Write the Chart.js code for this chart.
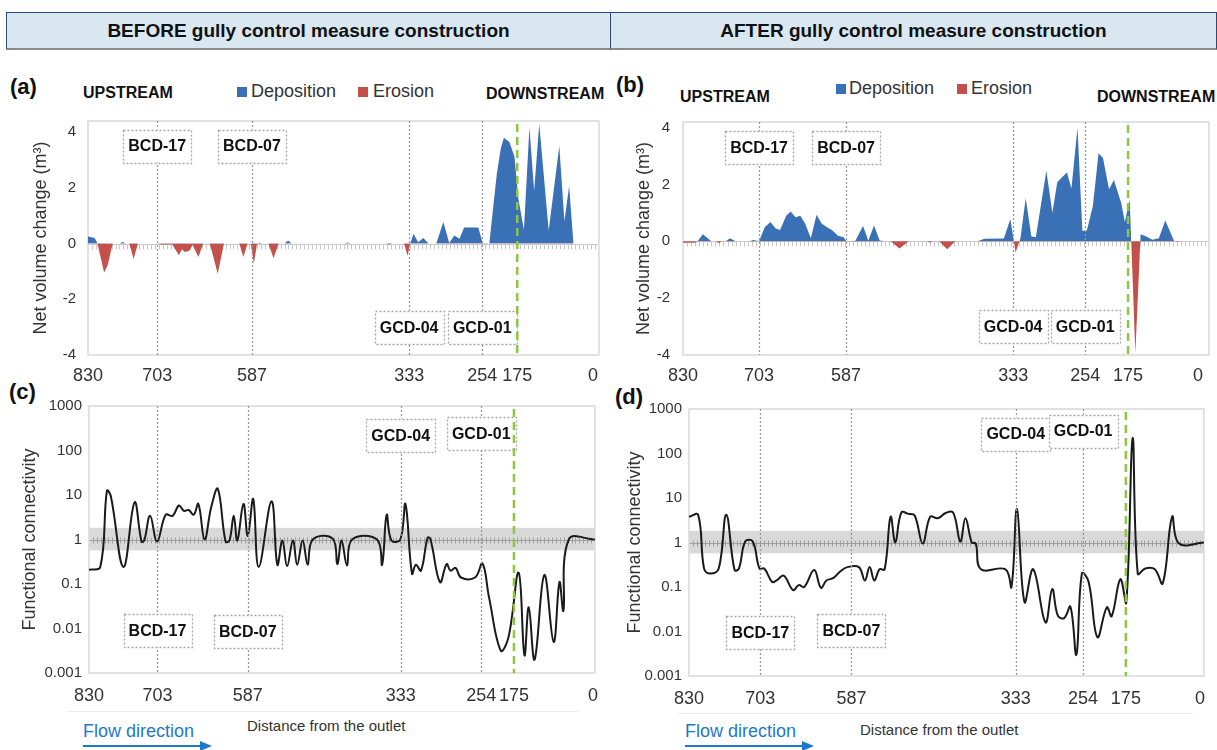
<!DOCTYPE html>
<html>
<head>
<meta charset="utf-8">
<script src="https://cdn.jsdelivr.net/npm/chart.js@4.4.0/dist/chart.umd.min.js"></script>
<style>
body { margin: 0; width: 1217px; height: 750px; position: relative; overflow: hidden; background: #fff;
       font-family: "Liberation Sans", Arial, sans-serif; color: #222; }
canvas { position: absolute; }
.abs { position: absolute; white-space: nowrap; transform: translateY(-50%); }
.hdr { position: absolute; top: 12px; height: 38px; line-height: 36px; text-align: center; box-sizing: border-box;
       background: #d9e7f1; border: 1px solid #2f4a72; border-bottom: 2px solid #8a8a8a;
       font-weight: bold; font-size: 19px; color: #111; }
.letter { font-weight: bold; font-size: 22px; color: #111; }
.stream { font-weight: bold; font-size: 16px; color: #111; }
.leg { font-size: 18px; color: #333; }
.sq { position: absolute; width: 10px; height: 10px; transform: translateY(-50%); }
.flow { font-size: 18px; color: #1f78c8; }
.dist { font-size: 15px; color: #333; }
.sep { position: absolute; height: 1px; background: #ececec; }
</style>
</head>
<body>

<div class="hdr" style="left:6px;width:605px">BEFORE gully control measure construction</div>
<div class="hdr" style="left:610px;width:607px">AFTER gully control measure construction</div>

<div class="abs letter" style="left:10px;top:87px">(a)</div>
<div class="abs letter" style="left:616px;top:85px">(b)</div>
<div class="abs letter" style="left:9px;top:392px">(c)</div>
<div class="abs letter" style="left:615px;top:397px">(d)</div>

<div class="abs stream" style="left:83px;top:93px">UPSTREAM</div>
<div class="abs stream" style="left:486px;top:94px">DOWNSTREAM</div>
<div class="abs stream" style="left:680px;top:97px">UPSTREAM</div>
<div class="abs stream" style="left:1097px;top:97px">DOWNSTREAM</div>

<div class="sq" style="left:237px;top:92px;background:#3a70b6"></div>
<div class="abs leg" style="left:251px;top:91px">Deposition</div>
<div class="sq" style="left:358px;top:92px;background:#c4504c"></div>
<div class="abs leg" style="left:373px;top:91px">Erosion</div>
<div class="sq" style="left:836px;top:89px;background:#3a70b6"></div>
<div class="abs leg" style="left:849px;top:88px">Deposition</div>
<div class="sq" style="left:957px;top:89px;background:#c4504c"></div>
<div class="abs leg" style="left:971px;top:88px">Erosion</div>

<canvas id="chartA" width="610" height="290" style="left:0;top:100px"></canvas>
<canvas id="chartB" width="607" height="290" style="left:610px;top:100px"></canvas>
<canvas id="chartC" width="610" height="320" style="left:0;top:390px"></canvas>
<canvas id="chartD" width="607" height="320" style="left:610px;top:390px"></canvas>

<div class="sep" style="left:67px;top:711px;width:511px"></div>
<div class="sep" style="left:678px;top:713px;width:515px"></div>
<div class="abs flow" style="left:83px;top:731px">Flow direction</div>
<div class="abs flow" style="left:685px;top:731px">Flow direction</div>
<svg style="position:absolute;left:83px;top:740px" width="130" height="12"><line x1="0" y1="6" x2="120" y2="6" stroke="#1f78c8" stroke-width="2"/><polygon points="117,1 129,6 117,11" fill="#1f78c8"/></svg>
<svg style="position:absolute;left:685px;top:740px" width="130" height="12"><line x1="0" y1="6" x2="120" y2="6" stroke="#1f78c8" stroke-width="2"/><polygon points="117,1 129,6 117,11" fill="#1f78c8"/></svg>
<div class="abs dist" style="left:247px;top:725px">Distance from the outlet</div>
<div class="abs dist" style="left:860px;top:729px">Distance from the outlet</div>

<script>
Chart.defaults.font.family = '"Liberation Sans", Arial, sans-serif';
Chart.defaults.color = '#333';
Chart.defaults.animation = false;

const stationMax = 130;
const tickText = ['830', '703', '587', '333', '254', '175', '0'];
// where the distance labels sit along the section index
const tickPosA = [0, 17.6, 41.7, 81.7, 100.3, 109.2, 128.5];
const tickPosB = [0, 18.8, 40.3, 81.6, 99.4, 110.0, 127.3];
const tickPosC = [0, 17.6, 40.8, 80.1, 100.8, 109.2, 129.5];
const tickPosD = [0, 18.0, 41.0, 82.5, 99.5, 110.3, 129.0];
const connTicks = [0.001, 0.01, 0.1, 1, 10, 100, 1000];
const bandLow = 0.57, bandHigh = 1.83;

const markerNames = ['BCD-17', 'BCD-07', 'GCD-04', 'GCD-01'];
const markerYA = [3.5, 3.5, -3.0, -3.0];
const markerYB = [3.3, 3.3, -3.0, -3.0];
const markerYC = [0.0088, 0.0085, 220, 235];
const markerYD = [0.0093, 0.0107, 273, 320];

// (a) net volume change before
const netBeforeX = [0, 1.7, 2.4, 4.1, 5.0, 6.3, 8.0, 8.8, 9.6, 10.5, 11.6, 12.7, 17.8, 18.6, 21.5, 23.1, 23.9, 24.6, 25.8, 26.6,
  28.1, 29.3, 31.0, 33.0, 34.6, 38.5, 39.5, 40.6, 41.4, 42.2, 43.0, 43.6, 44.3, 45.9, 47.2, 48.5, 50.0, 50.9, 51.8, 65.2,
  66.0, 66.8, 75.8, 76.6, 77.4, 80.4, 81.3, 82.0, 82.8, 84.0, 85.3, 86.6, 88.6, 90.4, 91.9, 93.2, 94.5, 95.7, 99.3, 100.4,
  102.1, 103.0, 104.0, 105.0, 105.8, 107.2, 108.5, 109.5, 110.9, 112.3, 113.5, 114.8, 117.2, 119.9, 121.2, 122.4, 123.5, 130];
const netBeforeY = [0.25, 0.2, 0, -1.04, -0.78, 0, 0, 0.06, 0, 0, -0.55, 0, 0, -0.03, -0.03, -0.42, -0.2, -0.3, -0.26, -0.05,
  -0.48, 0, 0, -1.08, 0, 0, -0.48, 0, 0, -0.72, 0, 0.03, 0, 0, -0.53, 0, 0, 0.11, 0, 0,
  0.04, 0, 0, -0.03, 0, 0, -0.44, 0, 0.35, 0.05, 0.2, 0, 0, 0.77, 0.02, 0.29, 0.17, 0.58, 0.58, 0.02,
  0, 1.2, 2.5, 3.4, 3.8, 3.65, 3.12, 1.6, 0.5, 4.17, 1.9, 4.29, 0.47, 3.5, 0.8, 2.07, 0, 0];

// (b) net volume change after
const netAfterX = [0, 3.0, 3.6, 4.9, 7.0, 8.2, 8.9, 9.6, 10.6, 11.6, 13.0, 16.5, 17.4, 18.8, 20.2, 21.6, 22.9, 24.0, 25.5, 26.6,
  27.8, 29.0, 30.2, 31.6, 33.0, 34.3, 35.9, 36.8, 38.3, 39.7, 40.4, 42.6, 44.5, 45.8, 47.2, 48.6, 49.9, 51.3, 53.5, 55.8,
  60.3, 61.0, 61.7, 63.3, 65.3, 67.3, 72.8, 74.5, 79.3, 80.9, 82.2, 83.4, 84.7, 86.1, 87.2, 89.8, 91.3, 92.5, 93.6, 94.9,
  96.0, 97.5, 98.7, 99.8, 101.3, 102.7, 103.8, 105.3, 106.5, 108.3, 109.2, 110.4, 111.8, 113.1, 114.5, 116.0, 117.6, 119.2, 121.4, 122.2,
  123.0, 130];
const netAfterY = [-0.05, -0.05, 0, 0.25, 0, 0, -0.07, 0, 0, 0.11, 0, 0, 0.05, 0, 0.5, 0.68, 0.45, 0.4, 0.9, 1.05,
  0.85, 0.9, 0.62, 0.11, 0.94, 0.62, 0.47, 0.4, 0.2, 0.14, 0, 0.02, 0.54, 0.02, 0.56, 0.03, 0, 0, -0.25, 0,
  0, -0.05, 0, 0, -0.28, 0, 0, 0.09, 0.1, 0.79, -0.39, 0.11, 1.52, 0.17, 0.14, 2.48, 1.01, 2.08, 2.25, 2.42,
  1.86, 4.0, 0.37, 0.37, 1.24, 3.1, 2.93, 1.83, 2.16, 1.35, 0.68, 1.46, -3.94, 0.25, 0.17, 0.06, 0.11, 0.73, 0, -0.02,
  0, 0];

// (c) functional connectivity before
const connBeforeX = [0, 2.9, 4.6, 5.6, 8.85, 11.7, 13.5, 14.2, 15.7, 17.5, 19.7, 21.5, 23.1, 24.4, 25.6, 26.9, 28.1, 29.7, 31.4, 33.1,
  35.1, 36.1, 37.2, 38.1, 39.7, 40.8, 42.2, 43.6, 46.9, 48.4, 49.7, 50.9, 52.4, 53.5, 54.9, 56.2, 57.5, 62.6, 63.8, 64.9,
  66.3, 67.6, 74.0, 75.3, 76.5, 77.7, 80.0, 81.3, 83.0, 84.0, 85.3, 87.0, 87.7, 90.2, 91.9, 92.9, 94.2, 95.6, 99.2, 101.1,
  102.8, 105.8, 107.8, 110.4, 111.9, 113.0, 114.5, 117.0, 119.4, 120.9, 121.9, 123.3, 130];
const connBeforeY = [0.21, 0.24, 12.4, 9.5, 0.24, 6.8, 0.9, 0.95, 3.4, 0.9, 3.6, 3.4, 5.8, 4.4, 4.6, 3.6, 6.3, 1.0, 5.3, 13.7,
  0.9, 0.95, 3.4, 0.95, 6.3, 1.2, 8.1, 0.24, 7.2, 0.27, 0.95, 0.25, 0.95, 0.27, 0.95, 0.27, 1.0, 1.05, 0.28, 0.95,
  0.26, 1.0, 1.0, 0.27, 3.6, 0.95, 1.0, 6.3, 0.17, 0.27, 0.2, 1.1, 1.05, 0.11, 0.28, 0.2, 0.23, 0.14, 0.14, 0.29,
  0.05, 0.0032, 0.0064, 0.18, 0.0025, 0.03, 0.002, 0.16, 0.005, 0.11, 0.025, 1.0, 1.0];

// (d) functional connectivity after
const connAfterX = [0, 2.3, 3.8, 5.3, 7.5, 9.4, 11.5, 12.6, 14.2, 16.1, 17.8, 19.0, 21.0, 22.1, 23.9, 26.3, 27.7, 29.1, 31.6, 33.3,
  34.7, 36.5, 38.1, 40.0, 42.9, 44.4, 45.6, 46.8, 48.1, 49.4, 50.9, 52.1, 53.6, 55.4, 57.0, 59.0, 60.9, 62.8, 64.8, 66.7,
  68.5, 69.8, 71.4, 72.4, 73.7, 79.9, 81.4, 82.8, 84.7, 86.9, 90.0, 91.7, 93.1, 94.7, 96.3, 97.8, 99.2, 100.9, 103.1, 105.5,
  106.7, 108.9, 110.4, 112.0, 113.3, 115.2, 117.6, 119.6, 122.0, 123.7, 130];
const connAfterY = [3.8, 4.2, 0.26, 0.2, 0.26, 4.2, 0.24, 0.26, 1.05, 1.05, 0.26, 0.26, 0.13, 0.14, 0.18, 0.085, 0.11, 0.1, 0.24, 0.096,
  0.14, 0.16, 0.22, 0.28, 0.28, 0.14, 0.28, 0.14, 0.25, 0.25, 3.8, 1.0, 4.7, 4.4, 4.0, 0.95, 3.8, 3.5, 4.6, 4.7,
  1.05, 3.5, 1.0, 0.95, 0.25, 0.25, 0.1, 5.6, 0.046, 0.25, 0.016, 0.09, 0.023, 0.02, 0.036, 0.003, 0.2, 0.13, 0.0075, 0.035,
  0.022, 0.15, 0.045, 220, 0.2, 0.26, 0.25, 0.12, 3.8, 0.95, 1.0];

const blue = '#3a70b6', red = '#c4504c';

const pts = (xs, ys) => xs.map((x, i) => ({ x, y: ys[i] }));

// frame, zero/one line with section ticks, dotted structure lines and their labels
function decor(info) {
  return {
    id: 'decor',
    beforeDatasetsDraw(chart) {
      const { ctx, chartArea: a, scales: { x, y } } = chart;
      ctx.save();
      if (info.band) {
        const t = y.getPixelForValue(bandHigh), b = y.getPixelForValue(bandLow);
        ctx.fillStyle = '#d9d9d9';
        ctx.fillRect(a.left, t, a.right - a.left, b - t);
      }
      const by = Math.round(y.getPixelForValue(info.base)) + 0.5;
      ctx.strokeStyle = info.baseColor;
      ctx.lineWidth = 1;
      ctx.beginPath();
      ctx.moveTo(a.left, by);
      ctx.lineTo(a.right, by);
      for (let s = 1; s < stationMax; s++) {
        const px = Math.round(x.getPixelForValue(s)) + 0.5;
        ctx.moveTo(px, by - info.up);
        ctx.lineTo(px, by + info.down);
      }
      ctx.stroke();
      ctx.strokeStyle = '#d9d9d9';
      ctx.lineWidth = 1.5;
      ctx.strokeRect(a.left, a.top, a.right - a.left, a.bottom - a.top);
      ctx.restore();
    },
    afterDatasetsDraw(chart) {
      const { ctx, chartArea: a, scales: { x, y } } = chart;
      ctx.save();
      ctx.lineWidth = 1.3;
      ctx.strokeStyle = '#9a9a9a';
      ctx.setLineDash([2, 2]);
      for (let i = 1; i <= 4; i++) {
        const px = Math.round(x.getPixelForValue(info.ticks[i])) + 0.5;
        ctx.beginPath();
        ctx.moveTo(px, a.top);
        ctx.lineTo(px, a.bottom);
        ctx.stroke();
      }
      ctx.font = 'bold 16px "Liberation Sans", Arial, sans-serif';
      ctx.textAlign = 'center';
      ctx.textBaseline = 'middle';
      markerNames.forEach((name, i) => {
        const cx = x.getPixelForValue(info.ticks[i + 1]);
        const cy = y.getPixelForValue(info.markers[i]);
        const w = ctx.measureText(name).width + 10, h = 33;
        ctx.fillStyle = '#fff';
        ctx.fillRect(cx - w / 2, cy - h / 2, w, h);
        ctx.strokeStyle = '#a6a6a6';
        ctx.lineWidth = 1.3;
        ctx.strokeRect(Math.round(cx - w / 2) + 0.5, Math.round(cy - h / 2) + 0.5, Math.round(w), h);
        ctx.fillStyle = '#111';
        ctx.fillText(name, cx, cy + 1);
      });
      const gx = x.getPixelForValue(info.ticks[5]);
      ctx.setLineDash([8, 5]);
      ctx.strokeStyle = '#8dc63f';
      ctx.lineWidth = 2.5;
      ctx.beginPath();
      ctx.moveTo(gx, a.top + 3);
      ctx.lineTo(gx, a.bottom);
      ctx.stroke();
      ctx.restore();
    }
  };
}

function xScale(tickPos, h, pad) {
  return {
    type: 'linear', min: 0, max: stationMax,
    afterBuildTicks: s => { s.ticks = tickPos.map(v => ({ value: v })); },
    afterFit: s => { s.height = h; },
    ticks: { autoSkip: false, maxRotation: 0, padding: pad, font: { size: 18 }, color: '#333',
             callback: (v, i) => tickText[i] },
    grid: { display: false, drawTicks: false },
    border: { display: false }
  };
}

function netChart(id, xs, ys, tickPos, markers, max, yWidth, tickPad, titlePad, padTop, padRight) {
  new Chart(document.getElementById(id), {
    type: 'line',
    data: { datasets: [{
      data: pts(xs, ys),
      fill: { target: 'origin', above: blue, below: red },
      backgroundColor: blue, borderColor: 'rgba(0,0,0,0)', borderWidth: 0,
      pointRadius: 0, tension: 0
    }] },
    options: {
      responsive: false,
      layout: { padding: { top: padTop, right: padRight, left: 0, bottom: 0 } },
      plugins: { legend: { display: false }, tooltip: { enabled: false } },
      scales: {
        x: xScale(tickPos, 35, 10),
        y: {
          min: -4, max: max,
          afterFit: s => { s.width = yWidth; },
          ticks: { stepSize: 2, includeBounds: false, padding: tickPad, font: { size: 15 }, color: '#333' },
          grid: { display: false, drawTicks: false },
          border: { display: false },
          title: { display: true, text: 'Net volume change (m³)', font: { size: 18 }, color: '#333',
                   padding: { top: titlePad, bottom: 0 } }
        }
      }
    },
    plugins: [decor({ ticks: tickPos, markers, base: 0, baseColor: '#c8c8c8', up: 0, down: 5, band: false })]
  });
}

function connChart(id, xs, ys, tickPos, markers, yWidth, xHeight, titlePad, padTop, padRight) {
  new Chart(document.getElementById(id), {
    type: 'line',
    data: { datasets: [{
      data: pts(xs, ys),
      borderColor: '#1a1a1a', borderWidth: 2, pointRadius: 0, tension: 0.4, fill: false
    }] },
    options: {
      responsive: false,
      layout: { padding: { top: padTop, right: padRight, left: 0, bottom: 0 } },
      plugins: { legend: { display: false }, tooltip: { enabled: false } },
      scales: {
        x: xScale(tickPos, xHeight, 12),
        y: {
          type: 'logarithmic', min: 0.001, max: 1000,
          afterBuildTicks: s => { s.ticks = connTicks.map(v => ({ value: v })); },
          afterFit: s => { s.width = yWidth; },
          ticks: { padding: 7, font: { size: 15 }, color: '#333', callback: v => String(v) },
          grid: { display: false, drawTicks: false },
          border: { display: false },
          title: { display: true, text: 'Functional connectivity', font: { size: 18 }, color: '#333',
                   padding: { top: titlePad, bottom: 0 } }
        }
      }
    },
    plugins: [decor({ ticks: tickPos, markers, base: 1, baseColor: '#a0a0a0', up: 3, down: 3, band: true })]
  });
}

netChart('chartA', netBeforeX, netBeforeY, tickPosA, markerYA, 4.4, 88, 12, 30, 13, 11);
netChart('chartB', netAfterX, netAfterY, tickPosB, markerYB, 4.2, 73, 13, 23, 12, 8);
connChart('chartC', connBeforeX, connBeforeY, tickPosC, markerYC, 89, 37, 19, 15, 11);
connChart('chartD', connAfterX, connAfterY, tickPosD, markerYD, 79, 34, 14, 19, 7);
</script>
</body>
</html>
